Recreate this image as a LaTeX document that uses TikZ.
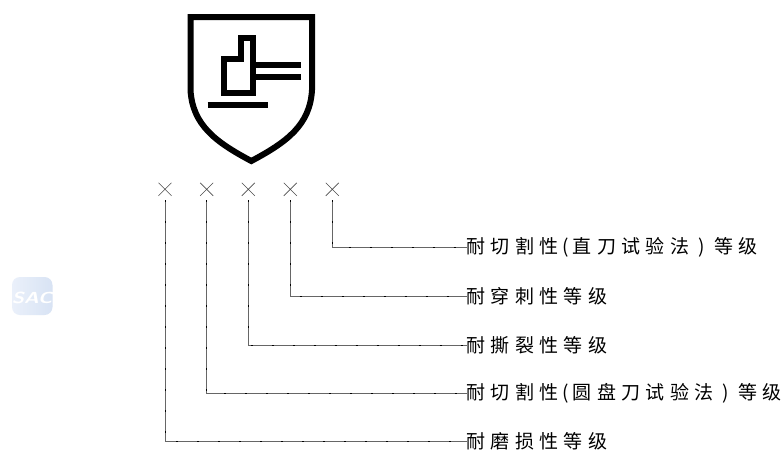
\documentclass[tikz,border=0pt]{standalone}
\usepackage{fontspec}
\usetikzlibrary{shapes.misc}
\newfontfamily\cjkf[LetterSpace=28]{Noto Sans CJK SC}
\newcommand{\opn}{\makebox[14.5pt][l]{\hspace{4pt}(}}
\newcommand{\cls}{\makebox[25pt][l]{\hspace{9pt})}}
\definecolor{sacA}{RGB}{234,240,250}
\definecolor{sacB}{RGB}{216,227,244}
\tikzset{
  pict/.style={line width=6pt,draw=black,miter limit=10},
  barline/.style={line width=6pt,draw=black},
  mk/.style={cross out,draw=black!70,line width=0.6pt,minimum size=13pt,inner sep=0pt,outer sep=0pt},
  lead/.style={draw=black!60,line width=0.6pt,postaction={draw=black,dash pattern=on 2pt off 19pt}},
  lab/.style={anchor=west,inner sep=0pt,outer sep=0pt,font=\fontsize{19pt}{21pt}\cjkf,text=black}
}
\begin{document}
\begin{tikzpicture}[x=1pt,y=-1pt]
\useasboundingbox (0,0) rectangle (783,451);
\fill[white] (0,0) rectangle (783,451);
% watermark
\shade[left color=sacA,right color=sacB,draw=none,rounded corners=8pt] (12,277) rectangle (52.5,315);
\node[anchor=center,inner sep=0pt,text=white,xscale=1.25,font=\sffamily\bfseries\itshape\fontsize{16pt}{16pt}\selectfont] (sac) at (32,297.5) {SAC};
% shield
\draw[pict,line join=miter] (190.5,90) -- (190.5,17) -- (312,17) -- (312,90)
  .. controls (310,125) and (287,142) .. (251.3,161)
  .. controls (215.6,142) and (192.5,125) .. (190.5,90) -- cycle;
% hand
\draw[pict] (223.7,58.7) -- (241,58.7) -- (241,38) -- (253,38) -- (253,93) -- (223.7,93) -- cycle;
\draw[barline] (253,65.3) -- (300.7,65.3);
\draw[barline] (253,77) -- (300.7,77);
\draw[barline] (207.7,104.8) -- (268,104.8);
% marks
\node[mk] (c1) at (165,189.3) {};
\node[mk] (c2) at (206.7,189.3) {};
\node[mk] (c3) at (248.3,189.3) {};
\node[mk] (c4) at (290.3,189.3) {};
\node[mk] (c5) at (332.3,189.3) {};
% labels
\node[lab] (l5) at (466.5,247) {耐切割性\opn 直刀试验法\cls 等级};
\node[lab] (l4) at (466.5,296) {耐穿刺性等级};
\node[lab] (l3) at (466.5,345) {耐撕裂性等级};
\node[lab] (l2) at (466.5,393) {耐切割性\opn 圆盘刀试验法\cls 等级};
\node[lab] (l1) at (466.5,441) {耐磨损性等级};
% connectors
\foreach \i in {1,...,5}{
  \draw[lead] ([yshift=-4.5pt]c\i.center |- c\i.south) |- (l\i.west);
}
\end{tikzpicture}
\end{document}
